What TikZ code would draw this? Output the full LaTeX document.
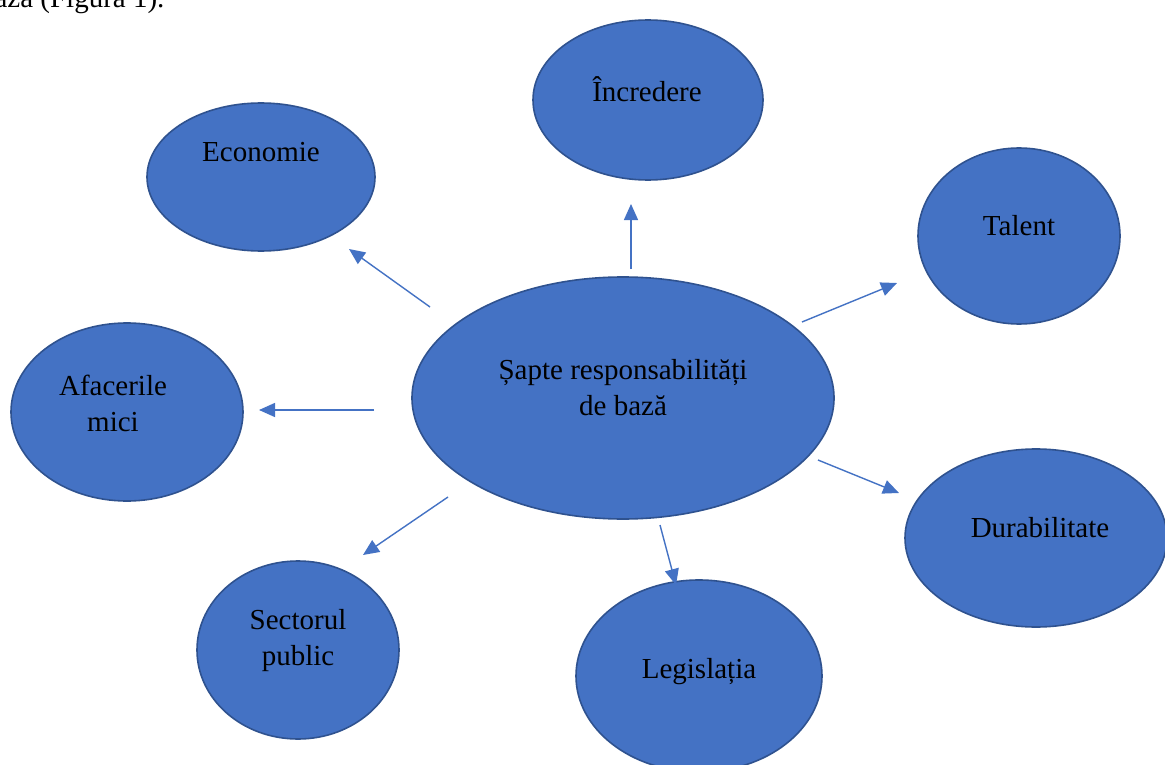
\documentclass[tikz,border=0pt]{standalone}
\usepackage{fontspec}
\setmainfont{Liberation Serif}
\usetikzlibrary{arrows.meta,shapes.geometric}
\definecolor{fillblue}{HTML}{4472C4}
\definecolor{edgeblue}{HTML}{2F528F}
\definecolor{arrowblue}{HTML}{4472C4}
\tikzset{
  bubble/.style={ellipse, fill=fillblue, draw=edgeblue, line width=1.6pt, inner sep=0pt},
  label/.style={font=\fontsize{29}{36}\selectfont, align=center, text=black},
  conn/.style={draw=arrowblue, line width=1.4pt, -{Triangle[length=16pt,width=14pt]}}
}
\begin{document}
\begin{tikzpicture}[x=1pt,y=-1pt]
\useasboundingbox (0,0) rectangle (1165,765);
\clip (0,0) rectangle (1165,765);
\fill[white] (0,0) rectangle (1165,765);
% partial caption at top
\node[label, anchor=base east] (cap) at (168,8) {bază (Figura 1).};
% ellipses
\node[bubble, minimum width=422pt, minimum height=242pt] (c) at (623,398) {};
\node[bubble, minimum width=228pt, minimum height=148pt] (eco) at (261,177) {};
\node[bubble, minimum width=230pt, minimum height=160pt] (inc) at (648,100) {};
\node[bubble, minimum width=202pt, minimum height=176pt] (tal) at (1019,236) {};
\node[bubble, minimum width=232pt, minimum height=178pt] (afa) at (127,412) {};
\node[bubble, minimum width=262pt, minimum height=178pt] (dur) at (1036,538) {};
\node[bubble, minimum width=202pt, minimum height=178pt] (sec) at (298,650) {};
\node[bubble, minimum width=246pt, minimum height=192pt] (leg) at (699,676) {};
% labels
\node[label] (tc) at (623,388) {Șapte responsabilități\\de bază};
\node[label] (teco) at (261,152) {Economie};
\node[label] (tinc) at (647,89) {Încredere};
\node[label] (ttal) at (1019,226) {Talent};
\node[label] (tafa) at (113,403) {Afacerile\\mici};
\node[label] (tdur) at (1040,528) {Durabilitate};
\node[label] (tsec) at (298,641) {Sectorul\\public};
\node[label] (tleg) at (699,672) {Legislația};
% arrow endpoints
\coordinate (s1) at (430,307); \coordinate (e1) at (349,249);
\coordinate (s2) at (631,269); \coordinate (e2) at (631,204);
\coordinate (s3) at (802,322); \coordinate (e3) at (897,283);
\coordinate (s4) at (374,410); \coordinate (e4) at (259,410);
\coordinate (s5) at (818,460); \coordinate (e5) at (899,493);
\coordinate (s6) at (660,525); \coordinate (e6) at (676,585);
\coordinate (s7) at (448,497); \coordinate (e7) at (363,555);
\draw[conn] (s1) -- (e1);
\draw[conn] (s2) -- (e2);
\draw[conn] (s3) -- (e3);
\draw[conn] (s4) -- (e4);
\draw[conn] (s5) -- (e5);
\draw[conn] (s6) -- (e6);
\draw[conn] (s7) -- (e7);
\end{tikzpicture}
\end{document}
